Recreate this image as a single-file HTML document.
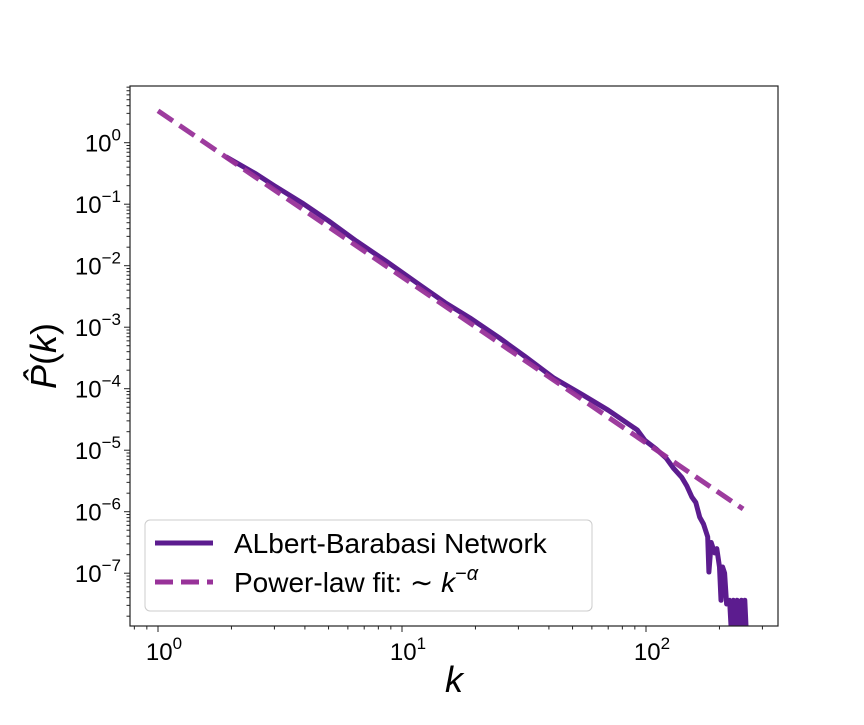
<!DOCTYPE html>
<html><head><meta charset="utf-8"><style>
body{margin:0;background:#fff;}
svg text{font-family:"Liberation Sans","DejaVu Sans",sans-serif;}
</style></head><body>
<svg id="chart" width="864" height="720" xmlns="http://www.w3.org/2000/svg">
<rect width="864" height="720" fill="#fff"/>
<g id="plot"></g>
<rect x="130" y="86" width="648" height="540" fill="none" stroke="#222" stroke-width="1.2"/>
<g id="axes"></g>
<text x="454" y="692" font-size="36" font-style="italic" text-anchor="middle">k</text>
<text transform="translate(56,356) rotate(-90)" font-size="36" text-anchor="middle"><tspan font-style="italic">P̂</tspan>(<tspan font-style="italic">k</tspan>)</text>
<g>
<rect x="145" y="520" width="447" height="91" rx="5" fill="#fff" fill-opacity="0.85" stroke="#ccc"/>
<line x1="155" y1="543" x2="213" y2="543" stroke="#5c1c8f" stroke-width="5"/>
<text x="234" y="553" font-size="28">ALbert-Barabasi Network</text>
<line x1="155" y1="582" x2="213" y2="582" stroke="#983299" stroke-width="5" stroke-dasharray="18,8"/>
<text x="234" y="592" font-size="28">Power-law fit: ∼ <tspan font-style="italic">k</tspan><tspan dy="-12" font-size="20">−<tspan font-style="italic">α</tspan></tspan></text>
</g>
</svg>
<script>
const kValues=[1.9,2.5,3,3.9,5,6.5,8.7,12,15,19,25,32,42,55,70,92,99,110,121,130,140,147,154,160,166,172,179,181,185,191,195,200,203,206,210,214,220,224,228,232,236,240,246,250,254,258];
const logP=[-0.23,-0.5,-0.7,-0.98,-1.27,-1.6,-1.94,-2.33,-2.6,-2.85,-3.17,-3.48,-3.83,-4.1,-4.35,-4.67,-4.84,-4.98,-5.13,-5.3,-5.44,-5.58,-5.76,-5.85,-6.09,-6.2,-6.41,-6.98,-6.5,-6.67,-6.6,-6.9,-7.44,-6.9,-7.0,-7.5,-7.44,-8,-7.44,-8,-7.44,-8,-7.44,-8,-7.44,-8];
const fitK=[1,250];
const fitCoef=3.3, fitAlpha=2.7;
const xTicks=[0,1,2];
const yTicks=[0,-1,-2,-3,-4,-5,-6,-7];
const X0=158, XD=244, Y0=142.7, YD=61.5, L=130,R=778,T=86,B=626;
const sx=k=>X0+Math.log10(k)*XD;
const sy=lp=>Y0-lp*YD;
const NS="http://www.w3.org/2000/svg";
function mk(tag,attrs,parent){const e=document.createElementNS(NS,tag);for(const a in attrs)e.setAttribute(a,attrs[a]);parent.appendChild(e);return e;}
const plot=document.getElementById('plot'), axes=document.getElementById('axes');
const cl=mk('clipPath',{id:'clip'},plot);mk('rect',{x:L,y:T,width:R-L,height:B-T},cl);
const fd=fitK.map((k,i)=>(i?'L':'M')+sx(k)+','+sy(Math.log10(fitCoef)-fitAlpha*Math.log10(k))).join(' ');
let d=kValues.map((k,i)=>(i?'L':'M')+sx(k).toFixed(1)+','+Math.min(B+10,sy(logP[i])).toFixed(1)).join(' ');
const data=mk('path',{d:d,fill:'none',stroke:'#5c1c8f','stroke-width':5,'stroke-linejoin':'round','clip-path':'url(#clip)'},plot);


const fit=mk('path',{d:fd,fill:'none',stroke:'#983299','stroke-opacity':0.95,'stroke-width':5,'stroke-dasharray':'18,8'},plot);


xTicks.forEach(t=>{const x=sx(Math.pow(10,t));
 mk('line',{x1:x,y1:B,x2:x,y2:B+6,stroke:'#222'},axes);
 const tx=mk('text',{x:x+6,y:B+34,'font-size':24,'text-anchor':'middle'},axes);
 
 
 tx.innerHTML='10<tspan dy="-11" font-size="17">'+t+'</tspan>';
 for(let m=2;m<10;m++){const xm=sx(m*Math.pow(10,t-1));if(xm>L)mk('line',{x1:xm,y1:B,x2:xm,y2:B+3.5,stroke:'#222'},axes);}
 if(t==2)for(let m=2;m<4;m++)mk('line',{x1:sx(m*100),y1:B,x2:sx(m*100),y2:B+3.5,stroke:'#222'},axes);
});
yTicks.forEach(t=>{const y=sy(t);
 mk('line',{x1:L-6,y1:y,x2:L,y2:y,stroke:'#222'},axes);
 const tx=mk('text',{x:L-9,y:y+9,'font-size':24,'text-anchor':'end'},axes);
 
 
 tx.innerHTML='10<tspan dy="-11" font-size="17">'+(t<0?'−'+(-t):'0')+'</tspan>';
});
for(let t=-8;t<=1;t++)for(let m=2;m<10;m++){const y=sy(t-1+Math.log10(m));if(y>T&&y<B)mk('line',{x1:L-3.5,y1:y,x2:L,y2:y,stroke:'#222'},axes);}
</script>
</body></html>
